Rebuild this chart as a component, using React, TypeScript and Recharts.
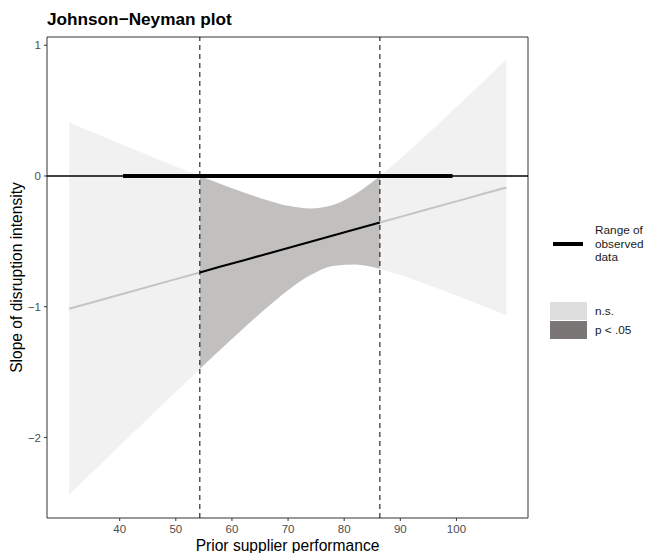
import {
  Area,
  ComposedChart,
  Line,
  ReferenceArea,
  ReferenceLine,
  XAxis,
  YAxis,
} from "recharts";

// moderator values and the slope estimate / 95% band
const xs = [31, 40, 50, 54.28, 58, 62, 66, 70, 74, 78, 82, 86.36, 90, 95, 100, 105, 108.9];
const estimate = [-1.015, -0.908, -0.789, -0.738, -0.693, -0.646, -0.598, -0.551, -0.503, -0.455, -0.408, -0.356, -0.313, -0.253, -0.194, -0.134, -0.088];
const lower = [-2.439, -2.064, -1.651, -1.476, -1.325, -1.168, -1.015, -0.874, -0.758, -0.688, -0.678, -0.712, -0.758, -0.833, -0.915, -0.999, -1.068];
const upper = [0.409, 0.248, 0.073, 0.0, -0.061, -0.124, -0.181, -0.228, -0.248, -0.222, -0.138, 0.0, 0.132, 0.327, 0.527, 0.731, 0.892];

const jnLow = 54.28;
const jnHigh = 86.36;
const observedRange = [40.6, 99.3];

const xTicks = [40, 50, 60, 70, 80, 90, 100];
const yTicks = [-2, -1, 0, 1];
const xDomain = [27.05, 112.75];
const yDomain = [-2.616, 1.063];

const NS_FILL = "#f1f1f1";
const SIG_FILL = "#c1c0bf";
const FONT = '"Liberation Sans", Arial, Helvetica, sans-serif';

const rows = xs.map((x, i) => {
  const band = [lower[i], upper[i]];
  const left = x <= jnLow;
  const mid = x >= jnLow && x <= jnHigh;
  const right = x >= jnHigh;
  return {
    x,
    nsL: left ? band : null,
    sig: mid ? band : null,
    nsR: right ? band : null,
    estL: left ? estimate[i] : null,
    estS: mid ? estimate[i] : null,
    estR: right ? estimate[i] : null,
  };
});

const fmtY = (v: number) => (v < 0 ? `\u2212${Math.abs(v)}` : `${v}`);

const legendText = { position: "absolute" as const, left: 595, fontSize: 11.8, color: "#1a1a1a", whiteSpace: "nowrap" as const };

export default function App() {
  return (
    <div style={{ position: "relative", width: 649, height: 553, fontFamily: FONT, background: "#fff" }}>
      <style>{`body{margin:0}`}</style>
      <div
        style={{
          position: "absolute",
          left: 47,
          top: 7,
          fontSize: 17.2,
          fontWeight: 700,
          color: "#000",
          lineHeight: "24px",
        }}
      >
        Johnson−Neyman plot
      </div>

      <ComposedChart
        width={649}
        height={553}
        data={rows}
        margin={{ top: 37, right: 121, bottom: 0, left: 0 }}
        style={{ fontFamily: FONT }}
      >
        <XAxis
          type="number"
          dataKey="x"
          domain={xDomain}
          ticks={xTicks}
          allowDataOverflow
          height={35}
          axisLine={false}
          tickSize={3}
          tickMargin={4}
          tickLine={{ stroke: "#333" }}
          tick={{ fill: "#4d4d4d", fontSize: 11.5 }}
          label={{
            content: ({ viewBox }: any) => (
              <text
                x={viewBox.x + viewBox.width / 2}
                y={viewBox.y + 32.5}
                textAnchor="middle"
                fontSize={15.6}
                fill="#000"
              >
                Prior supplier performance
              </text>
            ),
          }}
        />
        <YAxis
          type="number"
          domain={yDomain}
          ticks={yTicks}
          allowDataOverflow
          width={47}
          axisLine={false}
          tickSize={3}
          tickMargin={3}
          tickLine={{ stroke: "#333" }}
          tick={{ fill: "#4d4d4d", fontSize: 11.5 }}
          tickFormatter={fmtY}
          label={{
            content: ({ viewBox }: any) => {
              const cx = 22;
              const cy = viewBox.y + viewBox.height / 2;
              return (
                <text
                  x={cx}
                  y={cy}
                  textAnchor="middle"
                  fontSize={15.6}
                  fill="#000"
                  transform={`rotate(-90, ${cx}, ${cy})`}
                >
                  Slope of disruption intensity
                </text>
              );
            },
          }}
        />

        <Area dataKey="nsL" type="monotone" stroke="none" fill={NS_FILL} fillOpacity={1} isAnimationActive={false} />
        <Area dataKey="sig" type="monotone" stroke="none" fill={SIG_FILL} fillOpacity={1} isAnimationActive={false} />
        <Area dataKey="nsR" type="monotone" stroke="none" fill={NS_FILL} fillOpacity={1} isAnimationActive={false} />

        <Line dataKey="estL" stroke="#c4c4c4" strokeWidth={2} dot={false} isAnimationActive={false} />
        <Line dataKey="estR" stroke="#c4c4c4" strokeWidth={2} dot={false} isAnimationActive={false} />
        <Line dataKey="estS" stroke="#000" strokeWidth={2} dot={false} isAnimationActive={false} />

        <ReferenceLine y={0} stroke="#000" strokeWidth={1.5} />
        <ReferenceLine
          segment={[
            { x: observedRange[0], y: 0 },
            { x: observedRange[1], y: 0 },
          ]}
          stroke="#000"
          strokeWidth={4}
        />
        <ReferenceLine x={jnLow} stroke="#000" strokeWidth={1} strokeDasharray="5 4" />
        <ReferenceLine x={jnHigh} stroke="#000" strokeWidth={1} strokeDasharray="5 4" />

        <ReferenceArea
          x1={xDomain[0]}
          x2={xDomain[1]}
          y1={yDomain[0]}
          y2={yDomain[1]}
          fill="none"
          stroke="#333"
          strokeWidth={1}
          ifOverflow="visible"
        />
      </ComposedChart>

      {/* legend */}
      <div style={{ position: "absolute", left: 553, top: 242, width: 30, height: 4, background: "#000" }} />
      <div style={{ ...legendText, top: 224, lineHeight: "13.5px" }}>Range of</div>
      <div style={{ ...legendText, top: 237.5, lineHeight: "13.5px" }}>observed</div>
      <div style={{ ...legendText, top: 251, lineHeight: "13.5px" }}>data</div>
      <div style={{ position: "absolute", left: 550, top: 302, width: 37, height: 18, background: "#dedede" }} />
      <div style={{ position: "absolute", left: 550, top: 321, width: 37, height: 18, background: "#7a7675" }} />
      <div style={{ ...legendText, top: 303, lineHeight: "16px" }}>n.s.</div>
      <div style={{ ...legendText, top: 322, lineHeight: "16px" }}>p &lt; .05</div>
    </div>
  );
}
